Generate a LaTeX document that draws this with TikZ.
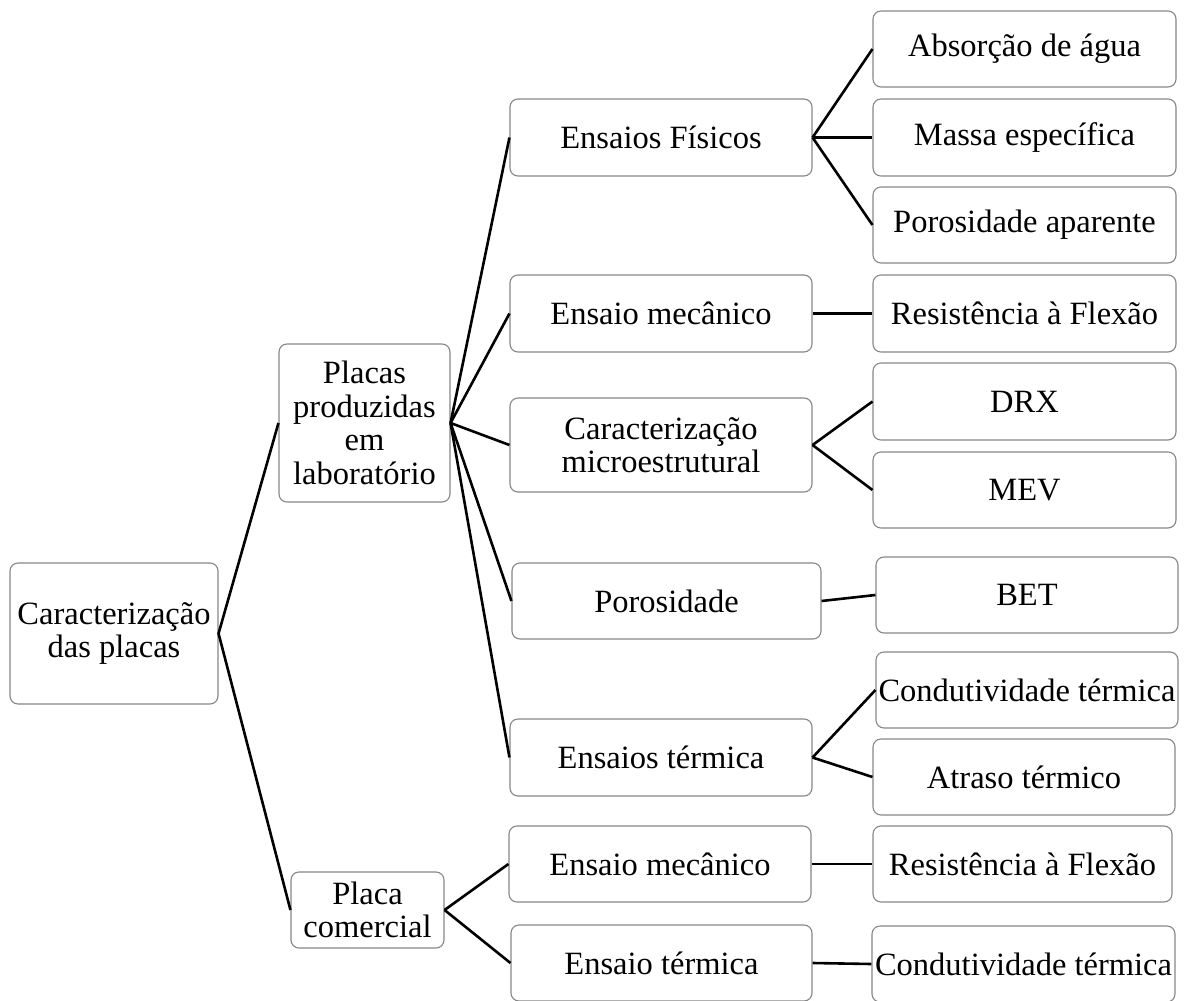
\documentclass[tikz,border=0pt]{standalone}
\usepackage{fontspec}
\setmainfont{Liberation Serif}
\definecolor{boxgray}{RGB}{135,135,135}
\tikzset{
  bx/.style={draw=boxgray, line width=1.1pt, rounded corners=8pt, fill=white,
    inner sep=0pt, align=center,
    font=\fontsize{32.5}{33.5}\selectfont},
  conn/.style={draw=black, line width=2.6pt}
}
\begin{document}
\begin{tikzpicture}[x=1pt,y=-1pt]
\useasboundingbox (0,0) rectangle (1184,1001);
% level 0
\node[bx, minimum width=208pt, minimum height=141pt] (root) at (114,633.5) {Caracterização\\das placas};
% level 1
\node[bx, minimum width=171pt, minimum height=158pt] (lab) at (364.5,423) {Placas\\produzidas\\em\\laboratório};
\node[bx, minimum width=153pt, minimum height=76pt] (com) at (367.5,910) {Placa\\comercial};
% level 2
\node[bx, minimum width=302pt, minimum height=77pt] (fis) at (661,137.5) {Ensaios Físicos};
\node[bx, minimum width=302pt, minimum height=77pt] (mec1) at (661,313.5) {Ensaio mecânico};
\node[bx, minimum width=302pt, minimum height=94pt] (micro) at (661,445) {Caracterização\\microestrutural};
\node[bx, minimum width=309pt, minimum height=76pt] (poro) at (666.5,601) {Porosidade};
\node[bx, minimum width=302pt, minimum height=77pt] (term1) at (661,757.5) {Ensaios térmica};
\node[bx, minimum width=302pt, minimum height=76pt] (mec2) at (660,864) {Ensaio mecânico};
\node[bx, minimum width=301pt, minimum height=76pt] (term2) at (661.5,963) {Ensaio térmica};
% level 3
\node[bx, minimum width=303pt, minimum height=76pt] (abs) at (1024.5,49) {Absorção de água};
\node[bx, minimum width=303pt, minimum height=77pt] (massa) at (1024.5,137.5) {Massa específica};
\node[bx, minimum width=303pt, minimum height=76pt] (poroap) at (1024.5,225) {Porosidade aparente};
\node[bx, minimum width=303pt, minimum height=77pt] (res1) at (1024.5,313.5) {Resistência à Flexão};
\node[bx, minimum width=303pt, minimum height=77pt] (drx) at (1024.5,401.5) {DRX};
\node[bx, minimum width=303pt, minimum height=76pt] (mev) at (1024.5,490) {MEV};
\node[bx, minimum width=302pt, minimum height=76pt] (bet) at (1027,595) {BET};
\node[bx, minimum width=302pt, minimum height=76pt] (cond1) at (1027,690) {Condutividade térmica};
\node[bx, minimum width=302pt, minimum height=76pt] (atraso) at (1024,777) {Atraso térmico};
\node[bx, minimum width=299pt, minimum height=76pt] (res2) at (1022.5,864) {Resistência à Flexão};
\node[bx, minimum width=303pt, minimum height=76pt] (cond2) at (1023.5,964) {Condutividade térmica};
% connectors
\draw[conn] (lab.west) -- (root.east) -- (com.west);
\draw[conn] (lab.east) -- (fis.west);
\draw[conn] (lab.east) -- (mec1.west);
\draw[conn] (lab.east) -- (micro.west);
\draw[conn] (lab.east) -- (poro.west);
\draw[conn] (lab.east) -- (term1.west);
\draw[conn] (com.east) -- (mec2.west);
\draw[conn] (com.east) -- (term2.west);
\draw[conn] (fis.east) -- (abs.west);
\draw[conn] (fis.east) -- (massa.west);
\draw[conn] (fis.east) -- (poroap.west);
\draw[conn] (mec1.east) -- (res1.west);
\draw[conn] (micro.east) -- (drx.west);
\draw[conn] (micro.east) -- (mev.west);
\draw[conn] (poro.east) -- (bet.west);
\draw[conn] (term1.east) -- (cond1.west);
\draw[conn] (term1.east) -- (atraso.west);
\draw[conn] (mec2.east) -- (res2.west);
\draw[conn] (term2.east) -- (cond2.west);
\end{tikzpicture}
\end{document}
